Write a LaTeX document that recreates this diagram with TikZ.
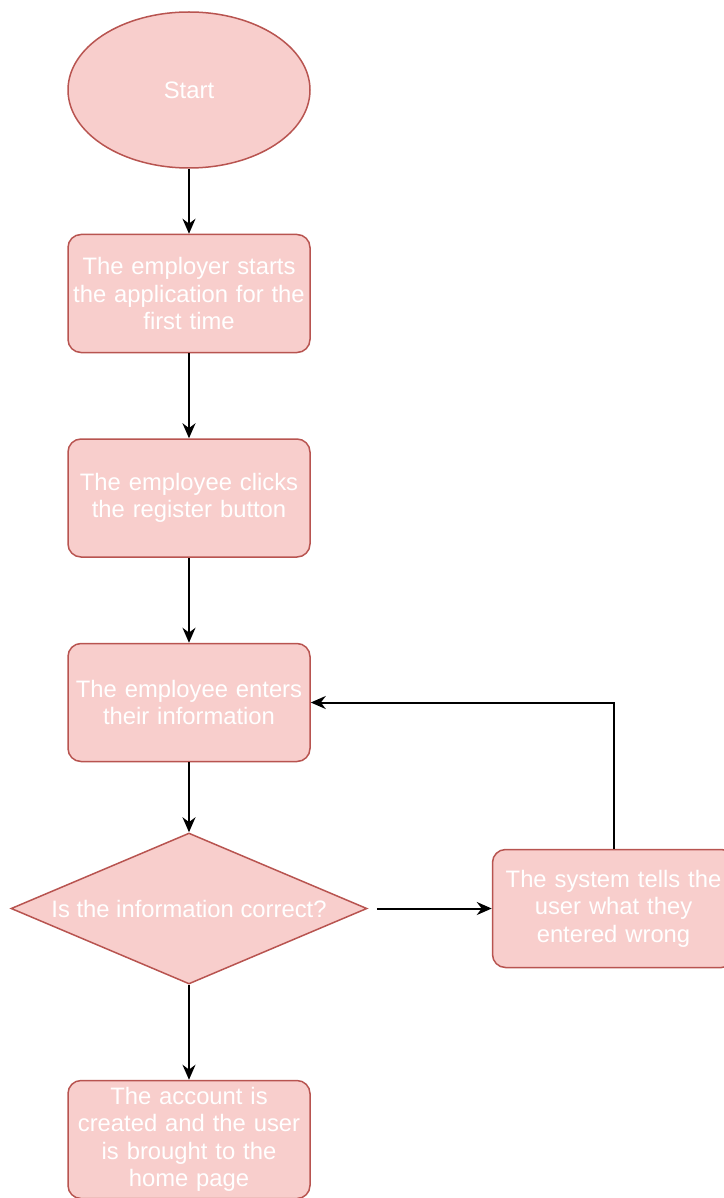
\documentclass[tikz,border=0pt]{standalone}
\usepackage{fontspec}
\setmainfont{Liberation Sans}
\usetikzlibrary{positioning,shapes.geometric,arrows.meta}
\definecolor{boxfill}{HTML}{F8CECC}
\definecolor{boxline}{HTML}{B85450}
\tikzset{
  base/.style={draw=boxline,fill=boxfill,line width=1.5pt,text=white,
    font=\fontsize{23.8}{27.5}\selectfont,align=center,inner sep=0pt},
  stepbox/.style={base,rectangle,rounded corners=13pt,minimum width=242pt,
    minimum height=118pt,text width=236pt},
  startnode/.style={base,ellipse,minimum width=242pt,minimum height=156pt},
  decision/.style={base,diamond,shape aspect=2.4,minimum width=356pt,minimum height=151pt},
  flow/.style={-{Stealth[length=15pt,width=13pt]},line width=2pt,black}
}
\begin{document}
\begin{tikzpicture}[x=1pt,y=-1pt]
\useasboundingbox (0,0) rectangle (723,1198);
\node[startnode] (start) at (189,90) {Start};
\node[stepbox,below=65pt of start] (launch) {The employer starts\\the application for the\\first time};
\node[stepbox,below=85pt of launch] (register) {The employee clicks\\the register button};
\node[stepbox,below=85pt of register] (info) {The employee enters\\their information};
\node[decision,below=70pt of info] (check) {Is the information correct?};
\node[stepbox,right=124pt of check] (wrong) {The system tells the\\user what they\\entered wrong};
\node[stepbox,below=95pt of check] (created) {The account is\\created and the user\\is brought to the\\home page};
\draw[flow] (start) -- (launch);
\draw[flow] (launch) -- (register);
\draw[flow] (register) -- (info);
\draw[flow] (info) -- (check);
\draw[flow] (check) -- (created);
\draw[flow] ([xshift=9pt]check.east) -- (wrong.west);
\draw[flow] (wrong.north) |- (info.east);
\end{tikzpicture}
\end{document}
